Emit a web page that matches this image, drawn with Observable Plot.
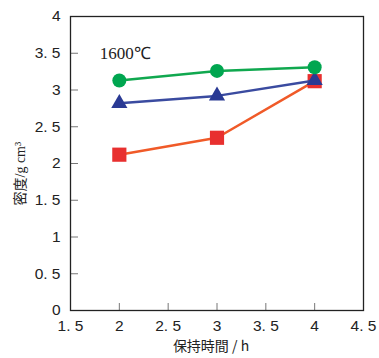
<!DOCTYPE html>
<html>
<head>
<meta charset="utf-8">
<script src="https://cdn.jsdelivr.net/npm/d3@7"></script>
<script src="https://cdn.jsdelivr.net/npm/@observablehq/plot@0.6"></script>
<style>
  html, body { margin: 0; padding: 0; background: #fff; }
</style>
</head>
<body>
<div id="chart"></div>
<script>
const hours = [2, 3, 4];
const greenSeries = [3.13, 3.26, 3.31];
const blueSeries = [2.82, 2.92, 3.13];
const redSeries = [2.12, 2.35, 3.12];
const xTicks = [1.5, 2, 2.5, 3, 3.5, 4, 4.5];
const yTicks = [0, 0.5, 1, 1.5, 2, 2.5, 3, 3.5, 4];
const xLabel = "保持時間 / h";
const yLabel = "密度/g cm³";
const annotation = [{x: 1.8, y: 3.5, text: "1600℃"}];

const rows = (vals) => hours.map((h, i) => ({x: h, y: vals[i]}));
const green = rows(greenSeries), blue = rows(blueSeries), red = rows(redSeries);
const fmt = d => String(d).replace(".", ". ");

const chart = Plot.plot({
  width: 379,
  height: 358,
  marginLeft: 70,
  marginRight: 16,
  marginTop: 16,
  marginBottom: 48,
  x: {domain: [1.5, 4.5]},
  y: {domain: [0, 4]},
  style: {fontSize: "15.5px", fontFamily: "'Liberation Sans Narrow', 'Liberation Sans', sans-serif", background: "#fff", color: "#222"},
  marks: [
    Plot.axisY(yTicks, {tickSize: -8, tickPadding: 18, tickFormat: fmt, stroke: "#777", label: null}),
    Plot.axisX(xTicks, {tickSize: -7, tickPadding: 16, tickFormat: fmt, stroke: "#777", label: null}),
    Plot.frame({stroke: "#222", strokeWidth: 1.3}),
    Plot.line(red, {x: "x", y: "y", stroke: "#f05a28", strokeWidth: 2.5}),
    Plot.dot(red, {x: "x", y: "y", symbol: "square", r: 8, fill: "#e8302f"}),
    Plot.line(blue, {x: "x", y: "y", stroke: "#3a4ba0", strokeWidth: 2.5}),
    Plot.dot(blue, {x: "x", y: "y", symbol: "triangle", r: 6, fill: "#2a3a94"}),
    Plot.line(green, {x: "x", y: "y", stroke: "#10a84f", strokeWidth: 2.5}),
    Plot.dot(green, {x: "x", y: "y", symbol: "circle", r: 7, fill: "#00a650"}),
    Plot.text(annotation, {x: "x", y: "y", text: "text", textAnchor: "start", fontSize: 17, fontFamily: "'Liberation Serif', serif", fill: "#222"}),
    Plot.text([xLabel], {frameAnchor: "bottom", dx: -6, dy: 40, fontSize: 14, fontFamily: "'Noto Sans CJK JP', sans-serif", fill: "#222"}),
    Plot.text([yLabel], {frameAnchor: "left", rotate: -90, dx: -50, dy: 42, fontSize: 14, fontFamily: "'Liberation Serif', 'Noto Sans CJK JP', serif", fill: "#222"})
  ]
});
document.getElementById("chart").appendChild(chart);
</script>
</body>
</html>
